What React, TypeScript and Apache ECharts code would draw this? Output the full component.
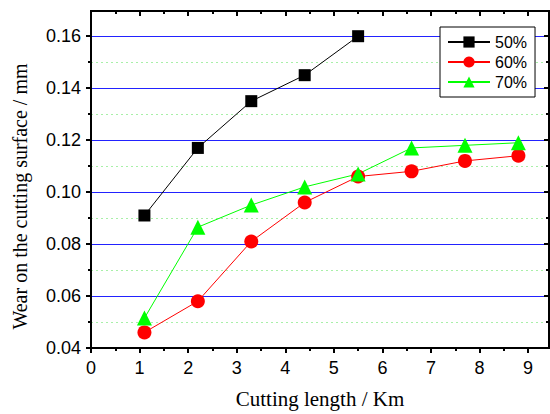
import React, { useEffect, useRef } from "react";
import * as echarts from "echarts";

const xMajor = [0, 1, 2, 3, 4, 5, 6, 7, 8, 9];
const xMinor = [0.5, 1.5, 2.5, 3.5, 4.5, 5.5, 6.5, 7.5, 8.5];
const yMajor = [0.04, 0.06, 0.08, 0.1, 0.12, 0.14, 0.16];
const yMinor = [0.05, 0.07, 0.09, 0.11, 0.13, 0.15];

const seriesNames = ["50%", "60%", "70%"];
const x50 = [1.1, 2.2, 3.3, 4.4, 5.5];
const y50 = [0.091, 0.117, 0.135, 0.145, 0.16];
const xLen = [1.1, 2.2, 3.3, 4.4, 5.5, 6.6, 7.7, 8.8];
const y60 = [0.046, 0.058, 0.081, 0.096, 0.106, 0.108, 0.112, 0.114];
const y70 = [0.0515, 0.0865, 0.095, 0.102, 0.107, 0.117, 0.118, 0.119];

const X_MIN = 0;
const X_MAX = 9.43;
const Y_MIN = 0.04;
const Y_MAX = 0.1697;

const sans = "Liberation Sans";
const serif = "Liberation Serif";

function xAxisDef(position: string, ticks: number[], len: number, inside: boolean, extra: any = {}) {
  return {
    type: "value",
    position,
    min: X_MIN,
    max: X_MAX,
    axisLine: { show: true, onZero: false, lineStyle: { color: "#000", width: 2 } },
    axisTick: { show: true, inside, length: len, customValues: ticks, lineStyle: { color: "#000", width: 2 } },
    axisLabel: { show: false },
    splitLine: { show: false },
    ...extra,
  };
}

function yAxisDef(position: string, ticks: number[], len: number, inside: boolean, extra: any = {}) {
  return {
    type: "value",
    position,
    min: Y_MIN,
    max: Y_MAX,
    axisLine: { show: true, onZero: false, lineStyle: { color: "#000", width: 2 } },
    axisTick: { show: true, inside, length: len, customValues: ticks, lineStyle: { color: "#000", width: 2 } },
    axisLabel: { show: false },
    splitLine: { show: false },
    ...extra,
  };
}

export default function App() {
  const ref = useRef<HTMLDivElement>(null);
  useEffect(() => {
    if (!ref.current) return;
    const chart = echarts.init(ref.current, undefined, { renderer: "svg" });
    const option: any = {
      animation: false,
      backgroundColor: "#fff",
      grid: { left: 91, right: 1, top: 11, bottom: 66, containLabel: false, outerBoundsMode: "none" },
      xAxis: [
        xAxisDef("bottom", xMajor, 5, false, {
          name: "Cutting length / Km",
          nameLocation: "middle",
          nameGap: 40,
          nameTextStyle: { fontFamily: serif, fontSize: 21, color: "#000" },
          axisLabel: {
            show: true,
            customValues: xMajor,
            margin: 11,
            fontFamily: sans,
            fontSize: 18,
            color: "#000",
            formatter: (v: number) => String(v),
          },
        }),
        xAxisDef("bottom", xMinor, 3, false),
        xAxisDef("top", xMajor, 5, true),
        xAxisDef("top", xMinor, 3, true),
      ],
      yAxis: [
        yAxisDef("left", yMajor, 5, false, {
          name: "Wear on the cutting surface / mm",
          nameLocation: "middle",
          nameGap: 61,
          nameTextStyle: { fontFamily: serif, fontSize: 20, color: "#000", padding: [0, 34, 0, 0] },
          axisLabel: {
            show: true,
            customValues: yMajor,
            margin: 10,
            fontFamily: sans,
            fontSize: 18,
            color: "#000",
            formatter: (v: number) => v.toFixed(2),
          },
          splitLine: { show: true, lineStyle: { color: "#2222ff", width: 1, type: "solid" } },
        }),
        yAxisDef("left", yMinor, 3, false, {
          splitLine: { show: true, lineStyle: { color: "#a8f0a8", width: 1, type: [2, 3] } },
        }),
        yAxisDef("right", yMajor, 5, true),
        yAxisDef("right", yMinor, 3, true),
      ],
      legend: {
        orient: "vertical",
        left: 440,
        top: 27,
        data: seriesNames,
        backgroundColor: "#fff",
        borderColor: "#000",
        borderWidth: 1,
        borderRadius: 0,
        padding: [7, 8, 7, 7],
        itemGap: 4,
        itemWidth: 42,
        itemHeight: 14,
        textStyle: { fontFamily: sans, fontSize: 16, color: "#000" },
      },
      series: [
        {
          name: seriesNames[0],
          type: "line",
          xAxisIndex: 0,
          yAxisIndex: 0,
          data: x50.map((x, i) => [x, y50[i]]),
          symbol: "rect",
          symbolSize: 12,
          itemStyle: { color: "#000" },
          lineStyle: { color: "#000", width: 1 },
          z: 5,
        },
        {
          name: seriesNames[1],
          type: "line",
          xAxisIndex: 0,
          yAxisIndex: 0,
          data: xLen.map((x, i) => [x, y60[i]]),
          symbol: "circle",
          symbolSize: 14,
          itemStyle: { color: "#ff0000" },
          lineStyle: { color: "#ff0000", width: 1 },
          z: 5,
        },
        {
          name: seriesNames[2],
          type: "line",
          xAxisIndex: 0,
          yAxisIndex: 0,
          data: xLen.map((x, i) => [x, y70[i]]),
          symbol: "triangle",
          symbolSize: 15,
          itemStyle: { color: "#00ff00" },
          lineStyle: { color: "#00ff00", width: 1 },
          z: 5,
        },
      ],
    };
    chart.setOption(option);
    return () => chart.dispose();
  }, []);
  return (
    <div
      ref={ref}
      style={{ position: "fixed", left: 0, top: 0, width: 550, height: 414, background: "#fff" }}
    />
  );
}
